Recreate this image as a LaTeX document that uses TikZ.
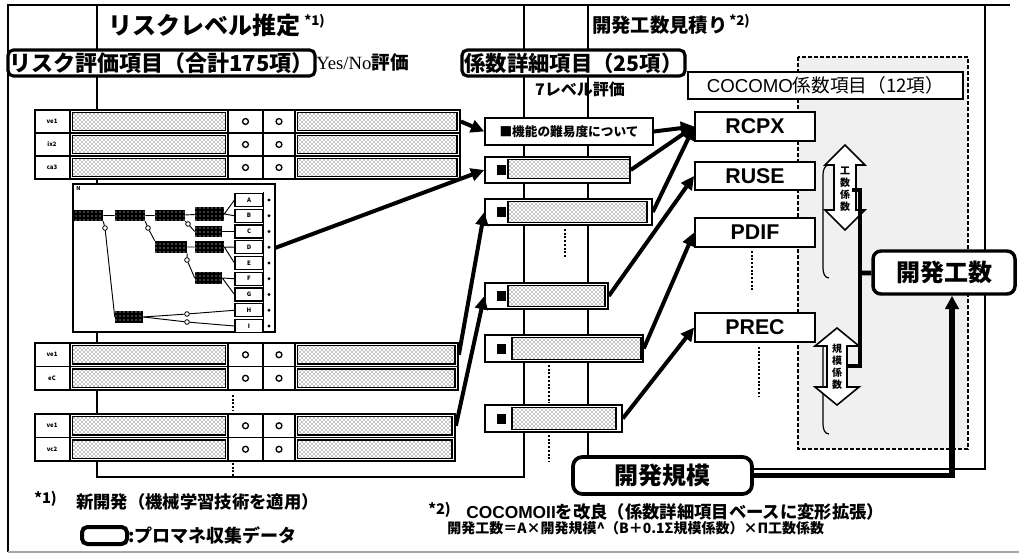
\documentclass[tikz,border=0pt]{standalone}
\usepackage{fontspec}
\setmainfont{Noto Sans CJK JP}
\newfontfamily\hv{Liberation Sans}
\newfontfamily\tms{Liberation Serif}
\usetikzlibrary{arrows.meta,fit,patterns}
\newcommand\fsz[1]{\fontsize{#1}{#1}\selectfont}
\tikzset{
  pbox/.style={draw, line width=1.1pt, fill=white, inner sep=0pt},
  rbox/.style={draw, line width=2.4pt, rounded corners=4pt, fill=white, inner sep=0pt},
  lbl/.style={inner sep=0pt},
  bar/.style={draw, line width=1.4pt, pattern=crosshatch dots, pattern color=black},
  cell/.style={draw, line width=1pt},
  barrow/.style={line width=3pt, -{Triangle[length=10pt,width=9.5pt]}},
  dotv/.style={line width=2.2pt, dash pattern=on 1.5pt off 1.3pt},
  tnode/.style={fill=black, inner sep=0pt, postaction={pattern=dots, pattern color=white}},
  leaf/.style={draw, line width=0.8pt, fill=white, inner sep=0pt},
  thinl/.style={line width=0.7pt},
  knot/.style={circle, draw, line width=0.6pt, fill=white, inner sep=0pt, minimum size=3.5pt},
  panel/.style={draw, line width=1.1pt},
}
\newcommand\trow[5]{%
  \node[pbox, line width=1.3pt, fit={(35,#2)(#4,#3)}] (#1) {};
  \draw[cell] (70,#2) -- (70,#3) (228,#2) -- (228,#3) (263,#2) -- (263,#3) (295,#2) -- (295,#3);
  \draw[bar] (72.5,{#2+2.5}) rectangle (225.5,{#3-2.5});
  \draw[bar] (297.5,{#2+2.5}) rectangle ({#4-3},{#3-2.5});
  \draw[line width=1pt] (245.5,{(#2+#3)/2}) circle (2.2pt);
  \draw[line width=1pt] (279,{(#2+#3)/2}) circle (2.2pt);
  \node[lbl, font=\fsz{4.5}\bfseries] (#1l) at (52,{(#2+#3)/2}) {#5};
}
\newcommand\dblarr[6]{%
  \draw[line width=1.2pt, fill=white] (#1,#2) -- ({#1+#4},{#2+#6}) -- ({#1+#5},{#2+#6}) -- ({#1+#5},{#3-#6}) -- ({#1+#4},{#3-#6}) -- (#1,#3) -- ({#1-#4},{#3-#6}) -- ({#1-#5},{#3-#6}) -- ({#1-#5},{#2+#6}) -- ({#1-#4},{#2+#6}) -- cycle;}
\begin{document}
\begin{tikzpicture}[x=0.75pt,y=-0.75pt]
\useasboundingbox (0,0) rectangle (1019,556);
\fill[white] (0,0) rectangle (1019,556);
% outer frame
\draw[line width=1.6pt] (8,552) -- (8,5) -- (1010,5);
\draw[black!35, line width=1pt] (8,552) -- (1019,552);
% panels
\draw[panel] (97,5) rectangle (524,477);
\draw[panel] (588,5) rectangle (985,469);
% dashed region
\draw[line width=1.8pt, dash pattern=on 3pt off 1.5pt, fill=black!6] (798,57) rectangle (968,449);
% titles
\node[anchor=west, lbl, font=\fsz{18}\bfseries] (t1) at (108,25) {リスクレベル推定};
\node[anchor=west, lbl, font=\fsz{10}\bfseries] (t1s) at (304,21) {*1)};
\node[anchor=west, lbl, font=\fsz{14.5}\bfseries] (t2) at (592,25) {開発工数見積り};
\node[anchor=west, lbl, font=\fsz{10}\bfseries] (t2s) at (729,21) {*2)};
\node[rbox, fit={(8,50)(315,76)}] (riskeval) {};
\node[lbl, font=\fsz{16.5}\bfseries] (riskevalt) at (riskeval) {リスク評価項目（合計175項）};
\node[anchor=west, lbl, font=\fsz{14}] (yesno) at (316,62) {{\tms Yes/No}{\bfseries 評価}};
\node[rbox, fit={(462,50)(685,76)}] (keisu) {};
\node[lbl, font=\fsz{16}\bfseries] (keisut) at (keisu) {係数詳細項目（25項）};
\node[lbl, font=\fsz{12}\bfseries] (lv7) at (580,89) {7レベル評価};
% left tables
\trow{r11}{110}{133}{460}{ve1}
\trow{r12}{133}{156}{460}{ix2}
\trow{r13}{156}{179}{460}{ca3}
\trow{r21}{343}{366.5}{458}{ve1}
\trow{r22}{366.5}{390}{458}{eC}
\trow{r31}{414}{437.5}{455}{ve1}
\trow{r32}{437.5}{461}{455}{vc2}
\draw[dotv] (233,395) -- (233,411);
\draw[dotv] (233,463) -- (233,476);
% tree
\node[pbox, fit={(73,184)(275,332)}] (tree) {};
\node[anchor=north west, lbl, font=\fsz{4}\bfseries] (treen) at (76,186) {N};
\draw[thinl] (263,192) -- (263,332);
\foreach \n/\y in {A/200,B/215.75,C/231.5,D/247.25,E/263,F/278.75,G/294.5,H/310.25,I/326}{
  \node[leaf, fit={(235,{\y-6.5})(263,{\y+6.5})}] (leaf\n) {};
  \node[lbl, font=\fsz{4.5}\bfseries] (leaf\n t) at (leaf\n) {\n};
  \fill (269,\y) circle (1.2pt);
}
\node[tnode, fit={(73,210)(103,221)}] (n1) {};
\node[tnode, fit={(115,210)(145,221)}] (n2) {};
\node[tnode, fit={(155,210)(185,221)}] (n3) {};
\node[tnode, fit={(195,207)(224,221)}] (n4) {};
\node[tnode, fit={(195,226)(222,237)}] (n5) {};
\node[tnode, fit={(155,241)(187,253)}] (n6) {};
\node[tnode, fit={(195,241)(224,253)}] (n7) {};
\node[tnode, fit={(195,272)(222,284)}] (n8) {};
\node[tnode, fit={(115,311)(143,323)}] (n9) {};
\draw[thinl] (n1) -- (n2) (n2) -- (n3) (n3) -- (n4) (n6) -- (n7);
\node[knot] (c1) at (105,228) {};
\node[knot] (c2) at (148,228) {};
\node[knot] (c3) at (187,260) {};
\node[knot] (c4) at (188,224) {};
\node[knot] (c5) at (187,314) {};
\node[knot] (c6) at (187,322) {};
\draw[thinl] (n1.south east) -- (c1) -- (n9.west);
\draw[thinl] (n2.south east) -- (c2) -- (n6.north west);
\draw[thinl] (n6.south east) -- (c3) -- (n8.west);
\draw[thinl] (n3.south east) -- (c4) -- (n5.west);
\draw[thinl] (n4.east) -- (leafA.west) (n4.east) -- (leafB.west);
\draw[thinl] (n5.east) -- (leafC.west);
\draw[thinl] (n7.east) -- (leafD.west) (n7.east) -- (leafE.west);
\draw[thinl] (n8.east) -- (leafF.west) (n8.east) -- (leafG.west);
\draw[thinl] (n9.east) -- (c5) -- (leafH.west);
\draw[thinl] (n9.east) -- (c6) -- (leafI.west);
\coordinate (treeout) at (275,248);
% middle column
\node[pbox, fit={(485,118)(653,145)}] (m1) {};
\node[lbl, font=\fsz{9.5}\bfseries] (m1t) at (m1) {■機能の難易度について};
\node[pbox, fit={(485,157)(630,183)}] (m2) {};
\node[pbox, fit={(485,199)(652,225)}] (m3) {};
\node[pbox, fit={(485,283)(608,309)}] (m4) {};
\node[pbox, fit={(485,335)(643,362)}] (m5) {};
\node[pbox, fit={(485,405)(622,432)}] (m6) {};
\draw[bar] (508,159.5) rectangle (630,178.5);
\draw[bar] (508,201.5) rectangle (647,222.5);
\draw[bar] (508,285.5) rectangle (605,306.5);
\draw[bar] (512,337.5) rectangle (641,359.5);
\draw[bar] (512,407.5) rectangle (616,429.5);
\foreach \y in {170,212,296,348.5,418.5} \fill (497,{\y-5}) rectangle (506,{\y+5});
\draw[dotv] (565,229) -- (565,257);
\draw[dotv] (549,365) -- (549,403);
\draw[dotv] (549,435) -- (549,462);
% right column
\node[pbox, line width=1.4pt, fit={(688,72)(963,99)}] (cocomo) {};
\node[lbl, font=\fsz{14}] (cocomot) at (cocomo) {{\hv COCOMO}係数項目（12項）};
\foreach \nm/\tx/\ya/\yb in {rcpx/RCPX/112/141, ruse/RUSE/162/190, pdif/PDIF/218/247, prec/PREC/313/342}{
  \node[pbox, line width=1.4pt, fit={(695,\ya)(815,\yb)}] (\nm) {};
  \node[lbl, font=\fsz{16}\hv\bfseries] (\nm t) at (\nm) {\tx};
}
\draw[dotv] (752,251) -- (752,292);
\draw[dotv] (759,347) -- (759,397);
% braces
\draw[line width=0.9pt] (829,165) to[out=180,in=90] (823,175) -- (823,268) to[out=-90,in=180] (829,278);
\draw[line width=0.9pt] (829,339) to[out=180,in=90] (823,349) -- (823,424) to[out=-90,in=180] (829,434);
% double arrows
\dblarr{845}{145}{230}{20}{11}{20}
\node[lbl, align=center, font=\fontsize{7.5}{9}\selectfont\bfseries] (kosukeisu) at (845,189) {工\\数\\係\\数};
\dblarr{837}{328}{405}{22}{10}{18}
\node[lbl, align=center, font=\fontsize{7.5}{9}\selectfont\bfseries] (kibokeisu) at (837,367) {規\\模\\係\\数};
% result boxes
\node[rbox, line width=2.6pt, rounded corners=6pt, fit={(873,251)(1015,294)}] (kosu) {};
\node[lbl, font=\fsz{18}\bfseries] (kosut) at (kosu) {開発工数};
\node[rbox, line width=2.8pt, rounded corners=7pt, fit={(573,457)(752,494)}] (kibo) {};
\node[lbl, font=\fsz{18}\bfseries] (kibot) at (kibo) {開発規模};
\coordinate (brk) at (860,273);
\draw[line width=3.5pt] (852,190) -- (860,190) -- (860,366) -- (848,366);
\draw[line width=3.5pt] (brk) -- (kosu);
\draw[line width=3.8pt, -{Triangle[length=10pt,width=10pt]}] (kibo.east) -| ([xshift=6pt]kosu.south);
% arrows left -> middle
\draw[barrow] (r11.east) -- (m1.west);
\draw[barrow] (treeout) -- (m2.west);
\draw[barrow] (r21.east) -- (m3.west);
\draw[barrow] (r31.east) -- (m4.west);
% arrows middle -> right
\draw[barrow] (m1.east) -- (rcpx.west);
\draw[barrow] (m2.east) -- (rcpx.west);
\draw[barrow] (m3.east) -- (rcpx.west);
\draw[barrow] (m4.east) -- (ruse.west);
\draw[barrow] (m5.east) -- (pdif.west);
\draw[barrow] (m6.east) -- (prec.west);
% footnotes
\node[anchor=west, lbl, font=\fsz{11}\bfseries] (f1s) at (34,499) {*1)};
\node[anchor=west, lbl, font=\fsz{13}\bfseries] (f1) at (76,502) {新開発（機械学習技術を適用）};
\node[rbox, line width=3pt, fit={(82,527)(127,544)}] (legbox) {};
\node[anchor=west, lbl, font=\fsz{13.5}\bfseries] (leg) at (128,535) {:プロマネ収集データ};
\node[anchor=west, lbl, font=\fsz{11}\bfseries] (f2s) at (428,510) {*2)};
\node[anchor=west, lbl, font=\fsz{13}\bfseries] (f2) at (466,512) {{\hv COCOMOII}を改良（係数詳細項目ベースに変形拡張）};
\node[anchor=west, lbl, font=\fsz{10.5}\bfseries] (form) at (447,528) {開発工数＝A×開発規模\textasciicircum（B＋0.1Σ規模係数）×Π工数係数};
\end{tikzpicture}
\end{document}
